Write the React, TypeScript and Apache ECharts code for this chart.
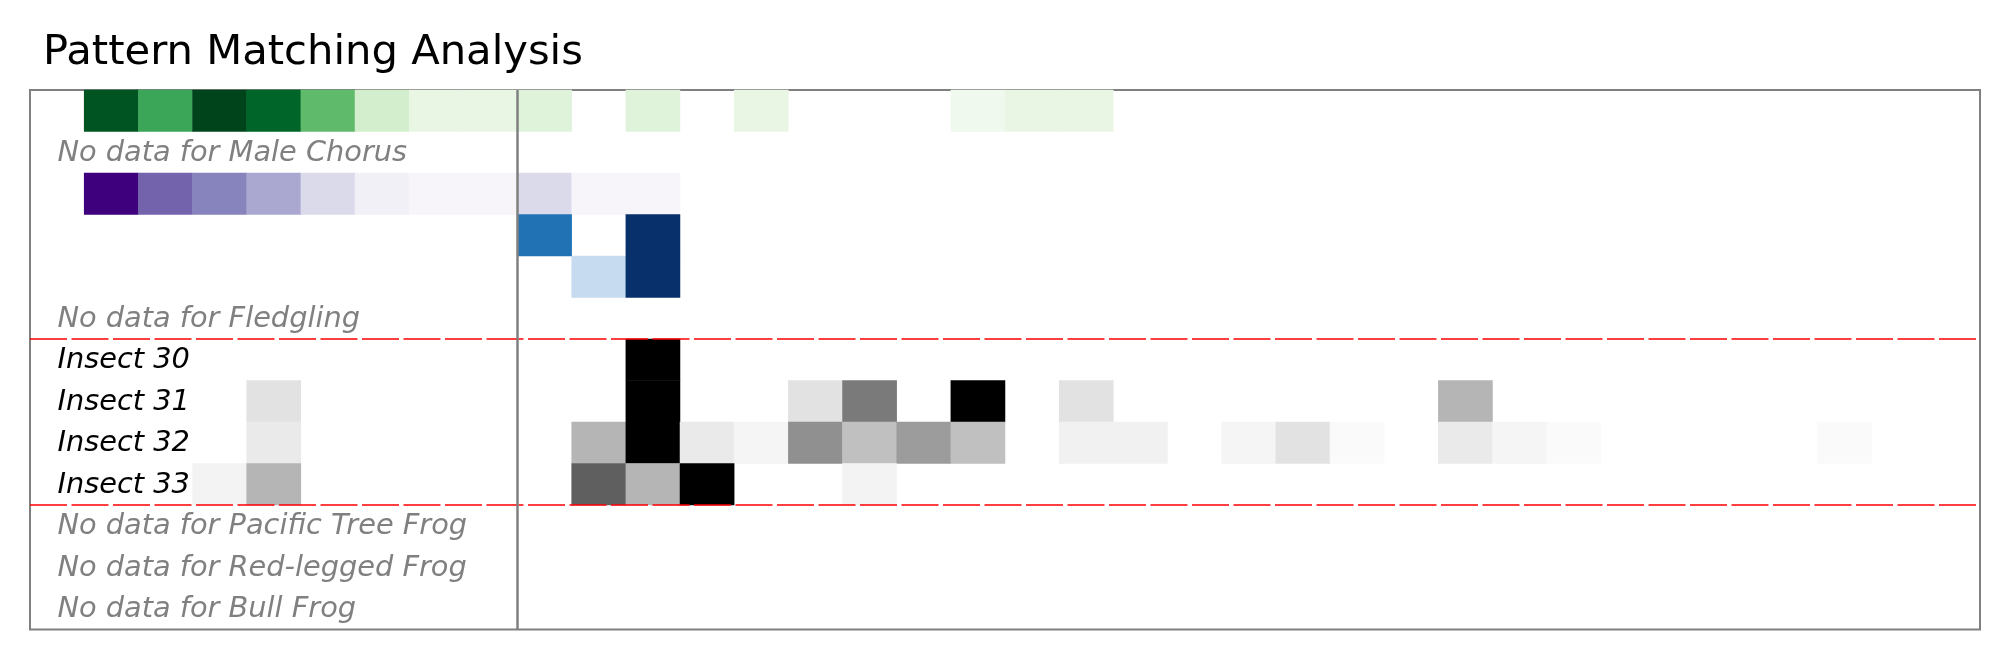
import { useEffect, useRef } from "react";
import * as echarts from "echarts";

const _ = null;

// 36 columns, left block (0-8) and right block (9-35) split by the grey divider
const COLUMNS = [
  "0", "1", "2", "3", "4", "5", "6", "7", "8", "9", "10", "11",
  "12", "13", "14", "15", "16", "17", "18", "19", "20", "21", "22", "23",
  "24", "25", "26", "27", "28", "29", "30", "31", "32", "33", "34", "35",
];

const ROW_IDS = [
  "r0", "r1", "r2", "r3", "r4", "r5", "r6", "r7", "r8", "r9", "r10", "r11", "r12",
];

const ROW_LABELS = [
  "",
  "No data for Male Chorus",
  "",
  "",
  "",
  "No data for Fledgling",
  "Insect 30",
  "Insect 31",
  "Insect 32",
  "Insect 33",
  "No data for Pacific Tree Frog",
  "No data for Red-legged Frog",
  "No data for Bull Frog",
];

// match counts per column (null = no match)
const GREEN_ROW = [
  _, 19, 13, 20, 18, 11, 4, 2, 2, 3, _, 3, _, 2, _, _, _, 1, 2, 2,
  _, _, _, _, _, _, _, _, _, _, _, _, _, _, _, _,
];
const PURPLE_ROW = [
  _, 20, 14, 12, 9, 5, 2, 1, 1, 5, 1, 1, _, _, _, _, _, _, _, _,
  _, _, _, _, _, _, _, _, _, _, _, _, _, _, _, _,
];
const BLUE_ROW_A = [
  _, _, _, _, _, _, _, _, _, 3, _, 4, _, _, _, _, _, _, _, _,
  _, _, _, _, _, _, _, _, _, _, _, _, _, _, _, _,
];
const BLUE_ROW_B = [
  _, _, _, _, _, _, _, _, _, _, 1, 4, _, _, _, _, _, _, _, _,
  _, _, _, _, _, _, _, _, _, _, _, _, _, _, _, _,
];
const INSECT_30 = [
  _, _, _, _, _, _, _, _, _, _, _, 1, _, _, _, _, _, _, _, _,
  _, _, _, _, _, _, _, _, _, _, _, _, _, _, _, _,
];
const INSECT_31 = [
  _, _, _, _, 1, _, _, _, _, _, _, 5, _, _, 1, 3, _, 5, _, 1,
  _, _, _, _, _, _, 2, _, _, _, _, _, _, _, _, _,
];
const INSECT_32 = [
  _, _, _, _, 4, _, _, _, _, _, 10, 25, 4, 2, 13, 9, 12, 9, _, 3,
  3, _, 2, 5, 1, _, 4, 2, 1, _, _, _, _, 1, _, _,
];
const INSECT_33 = [
  _, _, _, 1, 4, _, _, _, _, _, 7, 4, 10, _, _, 1, _, _, _, _,
  _, _, _, _, _, _, _, _, _, _, _, _, _, _, _, _,
];

const GREENS = ["#f7fcf5", "#e5f5e0", "#c7e9c0", "#a1d99b", "#74c476", "#41ab5d", "#238b45", "#006d2c", "#00441b"];
const PURPLES = ["#fcfbfd", "#efedf5", "#dadaeb", "#bcbddc", "#9e9ac8", "#807dba", "#6a51a3", "#54278f", "#3f007d"];
const BLUES = ["#f7fbff", "#deebf7", "#c6dbef", "#9ecae1", "#6baed6", "#4292c6", "#2171b5", "#08519c", "#08306b"];
const GREYS = ["#ffffff", "#f0f0f0", "#d9d9d9", "#bdbdbd", "#969696", "#737373", "#525252", "#252525", "#000000"];

// row index, values, colour map
const DATA_ROWS: [number, (number | null)[], string[]][] = [
  [0, GREEN_ROW, GREENS],
  [2, PURPLE_ROW, PURPLES],
  [3, BLUE_ROW_A, BLUES],
  [4, BLUE_ROW_B, BLUES],
  [6, INSECT_30, GREYS],
  [7, INSECT_31, GREYS],
  [8, INSECT_32, GREYS],
  [9, INSECT_33, GREYS],
];

const DIVIDER_COLUMN = 9;
const GROUP_BOUNDARIES = [6, 10];

const FONT = "DejaVu Sans";

export default function App() {
  const ref = useRef<HTMLDivElement>(null);

  useEffect(() => {
    if (!ref.current) return;
    const chart = echarts.init(ref.current, undefined, { renderer: "svg" });

    const cmaps = [GREENS, PURPLES, BLUES, GREYS];
    const series: any[] = DATA_ROWS.map(([row, values]) => {
      const max = Math.max(...values.map((v) => v ?? 0));
      const cells = values
        .map((v, col) => (v == null ? null : [col, row, v / max, v]))
        .filter((c) => c != null);
      return {
        type: "heatmap",
        xAxisIndex: 0,
        yAxisIndex: 0,
        data: cells,
        silent: true,
        emphasis: { disabled: true },
      };
    });

    const visualMap = cmaps.map((cmap) => ({
      type: "continuous",
      show: false,
      dimension: 2,
      min: 0,
      max: 1,
      seriesIndex: DATA_ROWS.map((r, i) => (r[2] === cmap ? i : -1)).filter(
        (i) => i >= 0,
      ),
      inRange: { color: cmap },
    }));

    series.push({
      type: "line",
      xAxisIndex: 1,
      yAxisIndex: 1,
      data: [],
      silent: true,
      markLine: {
        symbol: "none",
        silent: true,
        label: { show: false },
        data: [
          ...GROUP_BOUNDARIES.map((y) => ({
            yAxis: y,
            lineStyle: { color: "#ff0000", width: 1.7, type: [37, 4.5] },
          })),
          {
            xAxis: DIVIDER_COLUMN,
            lineStyle: { color: "#808080", width: 2.5, type: "solid" },
          },
        ],
      },
    });

    const labelStyle = {
      fontFamily: FONT,
      fontSize: 28.8,
      fontStyle: "italic",
      padding: [0, 0, 3, 0],
    };

    chart.setOption({
      animation: false,
      title: {
        text: "Pattern Matching Analysis",
        left: 43,
        top: 28,
        padding: 0,
        textStyle: {
          fontFamily: FONT,
          fontSize: 41.7,
          fontWeight: "normal",
          color: "#000",
        },
      },
      grid: {
        left: 30,
        top: 90,
        width: 1950,
        height: 539.5,
        show: true,
        borderColor: "#808080",
        borderWidth: 2,
        backgroundColor: "transparent",
      },
      xAxis: [
        { type: "category", data: COLUMNS, show: false },
        { type: "value", min: 0, max: COLUMNS.length, show: false },
      ],
      yAxis: [
        {
          type: "category",
          data: ROW_IDS,
          inverse: true,
          axisLine: { show: false },
          axisTick: { show: false },
          splitLine: { show: false },
          axisLabel: {
            inside: true,
            margin: 27.5,
            formatter: (_v: string, i: number) => {
              const label = ROW_LABELS[i];
              if (!label) return "";
              return label.startsWith("No data")
                ? `{nd|${label}}`
                : `{ins|${label}}`;
            },
            rich: {
              nd: { ...labelStyle, color: "#808080" },
              ins: { ...labelStyle, color: "#000000" },
            },
          },
          z: 10,
        },
        {
          type: "value",
          min: 0,
          max: ROW_IDS.length,
          inverse: true,
          show: false,
        },
      ],
      visualMap,
      series,
    });

    return () => {
      chart.dispose();
    };
  }, []);

  return (
    <div
      ref={ref}
      style={{ position: "fixed", left: 0, top: 0, width: 2009, height: 660 }}
    />
  );
}
